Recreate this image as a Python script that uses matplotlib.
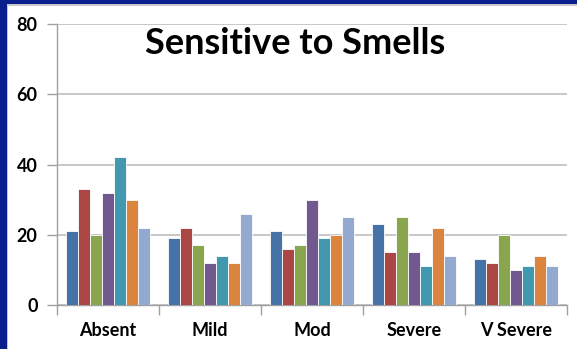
import matplotlib
matplotlib.use("Agg")
import matplotlib.pyplot as plt
from matplotlib.patches import Rectangle
import numpy as np

categories = ["Absent", "Mild", "Mod", "Severe", "V Severe"]
s1 = [21, 19, 21, 23, 13]
s2 = [33, 22, 16, 15, 12]
s3 = [20, 17, 17, 25, 20]
s4 = [32, 12, 30, 15, 10]
s5 = [42, 14, 19, 11, 11]
s6 = [30, 12, 20, 22, 14]
s7 = [22, 26, 25, 14, 11]
series = [s1, s2, s3, s4, s5, s6, s7]
colors = ["#4572A7", "#AA4643", "#89A54E", "#71588F", "#4198AF", "#DB843D", "#93A9CF"]
yticks = [0, 20, 40, 60, 80]
title = "Sensitive to Smells"

W, H = 577, 349
fig = plt.figure(figsize=(W / 100, H / 100), dpi=100)
fig.patch.set_facecolor("white")

# slide border (navy) on left and top
fig.patches.append(Rectangle((0, 0), 7 / W, 1, transform=fig.transFigure,
                             facecolor="#0A1E8E", edgecolor="none", zorder=0))
fig.patches.append(Rectangle((0, 1 - 4.5 / H), 1, 4.5 / H, transform=fig.transFigure,
                             facecolor="#0A1E8E", edgecolor="none", zorder=0))
fig.patches.append(Rectangle((7 / W, 0), 1.2 / W, 1 - 4.5 / H, transform=fig.transFigure,
                             facecolor="#C8C8C8", edgecolor="none", zorder=0))
fig.patches.append(Rectangle((7 / W, 1 - 5.7 / H), 1, 1.2 / H, transform=fig.transFigure,
                             facecolor="#C8C8C8", edgecolor="none", zorder=0))

ax = fig.add_axes([57 / W, 1 - 305 / H, 510 / W, 281 / H])
n = len(series)
bw = 0.817 / n
x = np.arange(len(categories))
for i, (vals, c) in enumerate(zip(series, colors)):
    offs = (i - (n - 1) / 2) * bw
    ax.bar(x + offs, vals, width=bw, color=c, edgecolor="white", linewidth=0.6, zorder=3)

ax.set_xlim(-0.5, len(categories) - 0.5)
ax.set_ylim(0, 80)
ax.set_yticks(yticks)
ax.set_yticklabels([str(t) for t in yticks], fontsize=13, fontweight="bold", family="Lato")
ax.yaxis.grid(True, color="#BFBFBF", linewidth=1.2, zorder=0)
ax.set_axisbelow(True)

ax.set_xticks(x)
ax.set_xticklabels(categories, fontsize=13, fontweight="bold", family="Lato")
ax.tick_params(axis="x", length=0, pad=12)
ax.set_xticks(np.arange(-0.5, len(categories)), minor=True)
ax.tick_params(axis="x", which="minor", length=7, color="#A0A0A0", width=1)
ax.tick_params(axis="y", length=7, color="#A0A0A0", width=1, pad=7)

for s in ["top", "right"]:
    ax.spines[s].set_visible(False)
for s in ["left", "bottom"]:
    ax.spines[s].set_color("#A0A0A0")
    ax.spines[s].set_linewidth(1)

fig.text(295 / W, 1 - 43 / H, title, ha="center", va="center",
         fontsize=26, fontweight="bold", family="Lato")

fig.savefig("out.png", dpi=100)
